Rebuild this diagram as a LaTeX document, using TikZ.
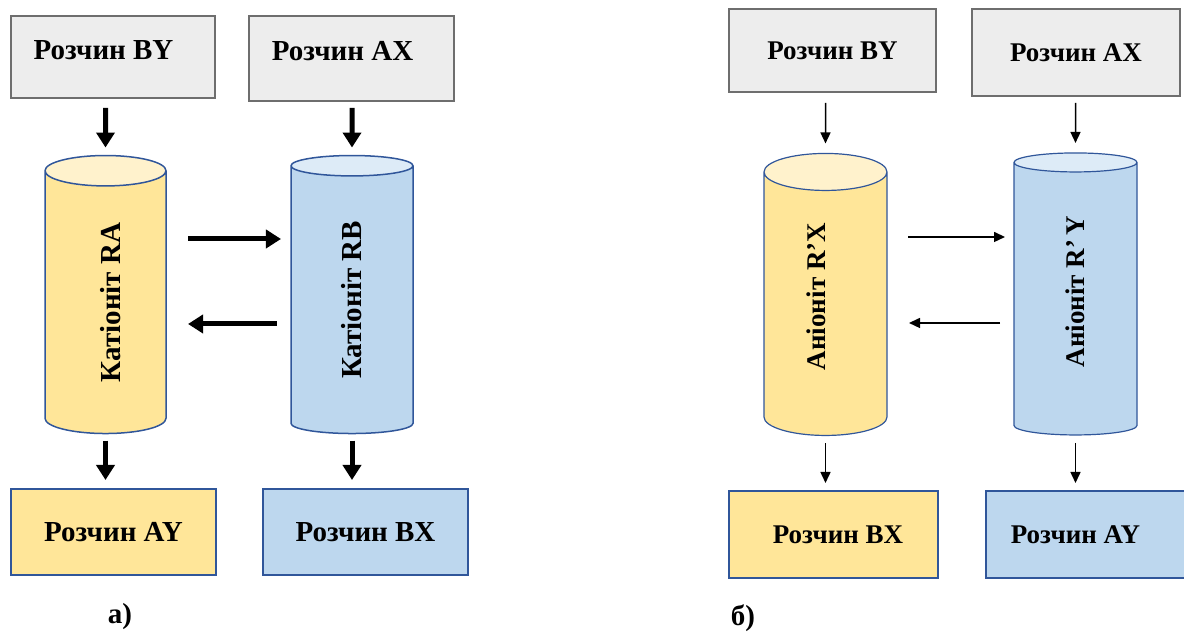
\documentclass[tikz,border=0pt]{standalone}
\usepackage{fontspec}
\setmainfont{Liberation Serif}
\usetikzlibrary{shapes.geometric, arrows.meta}
\definecolor{boxgray}{HTML}{EDEDED}
\definecolor{edgegray}{HTML}{6E6E6E}
\definecolor{paleyellow}{HTML}{FFE699}
\definecolor{lightyellow}{HTML}{FFF2CC}
\definecolor{paleblue}{HTML}{BDD7EE}
\definecolor{lightblue}{HTML}{DDEBF7}
\definecolor{edgeblue}{HTML}{30569A}
\tikzstyle{bigfont} = [font=\bfseries\fontsize{29}{34}\selectfont]
\tikzstyle{smallfont} = [font=\bfseries\fontsize{27}{32}\selectfont]
\tikzstyle{solution} = [rectangle, draw, inner sep=0pt, outer sep=0pt]
\tikzstyle{feed} = [solution, fill=boxgray, draw=edgegray]
\tikzstyle{yellowout} = [solution, fill=paleyellow, draw=edgeblue]
\tikzstyle{blueout} = [solution, fill=paleblue, draw=edgeblue]
\tikzstyle{column} = [cylinder, shape border rotate=90, draw=edgeblue, aspect=1, inner sep=0pt, outer sep=0pt, cylinder uses custom fill]
\tikzstyle{yellowcol} = [column, cylinder body fill=paleyellow, cylinder end fill=lightyellow]
\tikzstyle{bluecol} = [column, cylinder body fill=paleblue, cylinder end fill=lightblue]
\tikzstyle{fatarrow} = [line width=5pt, -{Triangle[length=15pt,width=18pt]}]
\tikzstyle{thinarrow} = [line width=1.5pt, -{Triangle[length=11pt,width=10pt]}]

\begin{document}
\begin{tikzpicture}[x=1pt, y=1pt]
                \useasboundingbox (0,0) rectangle (1184,632);

                \node (BYa) [feed, bigfont, line width=2pt, minimum width=204pt, minimum height=82pt, text depth=14pt] at (113,575) {Розчин BY\hspace*{19pt}};
                \node (AXa) [feed, bigfont, line width=2pt, minimum width=205pt, minimum height=85pt, text depth=15pt] at (351.5,573.5) {Розчин AX\hspace*{18pt}};
                \node (RA) [yellowcol, bigfont, line width=1.5pt, minimum width=121pt, minimum height=278pt] at (105.5,329.5) {\hspace*{10pt}\rotatebox{90}{Катіоніт RA}};
                \node (RB) [bluecol, bigfont, line width=1.5pt, minimum width=122pt, minimum height=278pt] at (352,332) {\rotatebox{90}{Катіоніт RB}};
                \node (AYa) [yellowout, bigfont, line width=1.5pt, minimum width=205pt, minimum height=86pt] at (113.5,100) {Розчин AY};
                \node (BXa) [blueout, bigfont, line width=1.5pt, minimum width=205pt, minimum height=86pt] at (365.5,100) {Розчин BX};
                \node (capa) [bigfont] at (120,15) {а)};

                \draw [fatarrow, shorten <=10pt, shorten >=8pt] (RA |- BYa.south) -- (RA.north);
                \draw [fatarrow, shorten <=7pt, shorten >=8pt] (RB |- AXa.south) -- (RB.north);
                \draw [fatarrow, shorten <=22pt, shorten >=10pt] ([yshift=63.5pt]RA.east) -- ([yshift=63.5pt]RA.east -| RB.west);
                \draw [fatarrow, shorten <=14pt, shorten >=22pt] ([yshift=-21.5pt]RA.east -| RB.west) -- ([yshift=-21.5pt]RA.east);
                \draw [fatarrow, shorten <=7pt, shorten >=9pt] (RA.south) -- (RA.south |- AYa.north);
                \draw [fatarrow, shorten <=7pt, shorten >=9pt] (RB.south) -- (RB.south |- BXa.north);

                \node (BYb) [feed, smallfont, line width=1.5pt, minimum width=207pt, minimum height=83pt] at (832.5,581.5) {Розчин BY};
                \node (AXb) [feed, smallfont, line width=1.5pt, minimum width=208pt, minimum height=87pt] at (1076,579.5) {Розчин AX};
                \node (RX) [yellowcol, smallfont, line width=1.2pt, minimum width=123pt, minimum height=282pt] at (825.5,328) {\raisebox{15pt}{\rotatebox{90}{Аніоніт R’X}}\hspace*{18pt}};
                \node (RY) [bluecol, smallfont, line width=1.2pt, minimum width=123pt, minimum height=282pt] at (1075.5,333) {\raisebox{15pt}{\rotatebox{90}{Аніоніт R’\,Y}}};
                \node (BXb) [yellowout, smallfont, line width=1.2pt, minimum width=209pt, minimum height=87pt] at (833.5,97.5) {\hspace*{9pt}Розчин BX};
                \node (AYb) [blueout, smallfont, line width=1.2pt, minimum width=210pt, minimum height=87pt] at (1091,97.5) {Розчин AY\hspace*{31pt}};
                \node (capb) [bigfont] at (743,14) {б)};

                \draw [thinarrow, shorten <=11pt, shorten >=10pt] (RX |- BYb.south) -- (RX.north);
                \draw [thinarrow, shorten <=7pt, shorten >=10pt] (RY |- AXb.south) -- (RY.north);
                \draw [thinarrow, shorten <=21pt, shorten >=9pt] ([yshift=67pt]RX.east) -- ([yshift=67pt]RX.east -| RY.west);
                \draw [thinarrow, shorten <=14pt, shorten >=22pt] ([yshift=-19pt]RX.east -| RY.west) -- ([yshift=-19pt]RX.east);
                \draw [thinarrow, shorten <=8pt, shorten >=8pt] (RX.south) -- (RX.south |- BXb.north);
                \draw [thinarrow, shorten <=8pt, shorten >=8pt] (RY.south) -- (RY.south |- AYb.north);
            \end{tikzpicture}
\end{document}
